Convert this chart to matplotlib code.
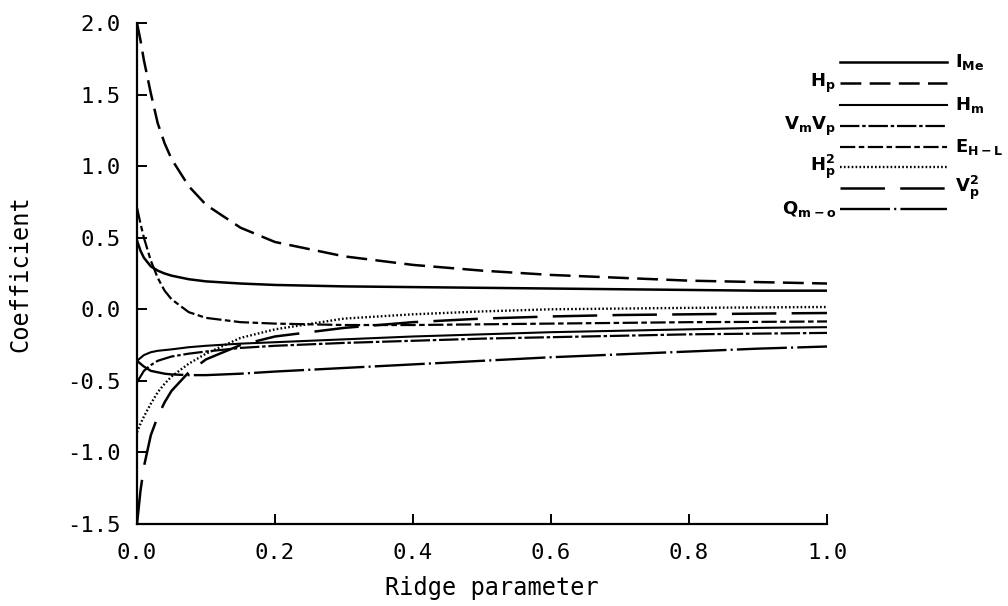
import matplotlib
matplotlib.use("Agg")
import matplotlib.pyplot as plt
from matplotlib.lines import Line2D

plt.rcParams['axes.unicode_minus'] = False
plt.rcParams['mathtext.default'] = 'bf'
plt.rcParams['lines.scale_dashes'] = False

ridge = [0, 0.005, 0.01, 0.02, 0.03, 0.04, 0.05, 0.075, 0.1, 0.15, 0.2,
         0.3, 0.4, 0.5, 0.6, 0.7, 0.8, 0.9, 1.0]

i_me = [0.48, 0.41, 0.36, 0.30, 0.27, 0.25, 0.235, 0.21, 0.195, 0.18, 0.17,
        0.16, 0.155, 0.15, 0.145, 0.14, 0.135, 0.13, 0.13]
h_p = [2.00, 1.88, 1.74, 1.51, 1.30, 1.16, 1.05, 0.86, 0.73, 0.57, 0.47,
       0.37, 0.31, 0.27, 0.24, 0.22, 0.20, 0.19, 0.18]
h_m = [-0.36, -0.34, -0.32, -0.30, -0.29, -0.285, -0.28, -0.265, -0.255, -0.24, -0.23,
       -0.21, -0.19, -0.175, -0.16, -0.15, -0.14, -0.13, -0.125]
vm_vp = [-0.51, -0.47, -0.43, -0.39, -0.36, -0.345, -0.33, -0.31, -0.295, -0.27, -0.255,
         -0.235, -0.22, -0.205, -0.195, -0.185, -0.175, -0.17, -0.165]
e_hl = [0.71, 0.60, 0.50, 0.34, 0.22, 0.13, 0.07, -0.02, -0.06, -0.09, -0.10,
        -0.11, -0.11, -0.105, -0.10, -0.095, -0.09, -0.088, -0.085]
h_p2 = [-0.86, -0.80, -0.75, -0.66, -0.58, -0.52, -0.47, -0.38, -0.31, -0.20, -0.14,
        -0.065, -0.035, -0.015, 0.0, 0.005, 0.01, 0.013, 0.016]
v_p2 = [-1.50, -1.27, -1.10, -0.88, -0.75, -0.65, -0.57, -0.44, -0.35, -0.25, -0.19,
        -0.13, -0.09, -0.065, -0.05, -0.04, -0.035, -0.03, -0.026]
q_mo = [-0.36, -0.38, -0.40, -0.43, -0.44, -0.45, -0.455, -0.46, -0.46, -0.45, -0.435,
        -0.41, -0.385, -0.36, -0.335, -0.315, -0.295, -0.275, -0.26]

labels = [r'$I_{Me}$', r'$H_p$', r'$H_m$', r'$V_mV_p$', r'$E_{H-L}$',
          r'$H_p^2$', r'$V_p^2$', r'$Q_{m-o}$']
series = [i_me, h_p, h_m, vm_vp, e_hl, h_p2, v_p2, q_mo]
styles = ['-', (0, (15, 6)), '-', (0, (14, 2, 2.5, 2)), (0, (11, 2.5, 4, 2.5)),
          (0, (1.2, 1.6)), (0, (32, 11)), (0, (36, 3, 1.5, 3))]
widths = [1.8, 1.8, 1.5, 1.6, 1.6, 1.7, 1.8, 1.7]
label_side = ['right', 'left', 'right', 'left', 'right', 'left', 'right', 'left']

fig = plt.figure(figsize=(10.08, 6.06), dpi=100)
ax = fig.add_axes([137 / 1008, 1 - 524 / 606, 690 / 1008, 501 / 606])

for ys, ls, lw in zip(series, styles, widths):
    ax.plot(ridge, ys, color='black', linestyle=ls, linewidth=lw)

ax.set_xlim(0, 1.0)
ax.set_ylim(-1.5, 2.0)
ax.set_xticks([0, 0.2, 0.4, 0.6, 0.8, 1.0])
ax.set_xticklabels(['0.0', '0.2', '0.4', '0.6', '0.8', '1.0'])
ax.set_yticks([-1.5, -1.0, -0.5, 0.0, 0.5, 1.0, 1.5, 2.0])
ax.set_yticklabels(['-1.5', '-1.0', '-0.5', '0.0', '0.5', '1.0', '1.5', '2.0'])
for s in ['top', 'right']:
    ax.spines[s].set_visible(False)
for s in ['left', 'bottom']:
    ax.spines[s].set_linewidth(1.6)
ax.tick_params(direction='in', length=7, width=1.4, labelsize=16)
ax.tick_params(axis='y', pad=12)
ax.tick_params(axis='x', pad=14)
for lab in ax.get_xticklabels() + ax.get_yticklabels():
    lab.set_family('DejaVu Sans Mono')

ax.set_xlabel('Ridge parameter', family='DejaVu Sans Mono', fontsize=17)
ax.set_ylabel('Coefficient', family='DejaVu Sans Mono', fontsize=17)
ax.xaxis.set_label_coords(0.514, -0.104)
ax.yaxis.set_label_coords(-0.151, 0.5)

# legend drawn manually to the right of the axes
leg_y = [62, 83, 105, 126, 147, 167, 188, 209]
x0, x1 = 840 / 1008, 947 / 1008
for lab, ls, lw, yp, side in zip(labels, styles, widths, leg_y, label_side):
    yf = 1 - yp / 606
    fig.add_artist(Line2D([x0, x1], [yf, yf], transform=fig.transFigure,
                          color='black', linestyle=ls, linewidth=lw))
    if side == 'right':
        fig.text(955 / 1008, yf, lab, ha='left', va='center', fontsize=13)
    else:
        fig.text(836 / 1008, yf, lab, ha='right', va='center', fontsize=13)

fig.savefig('out.png', dpi=100)
